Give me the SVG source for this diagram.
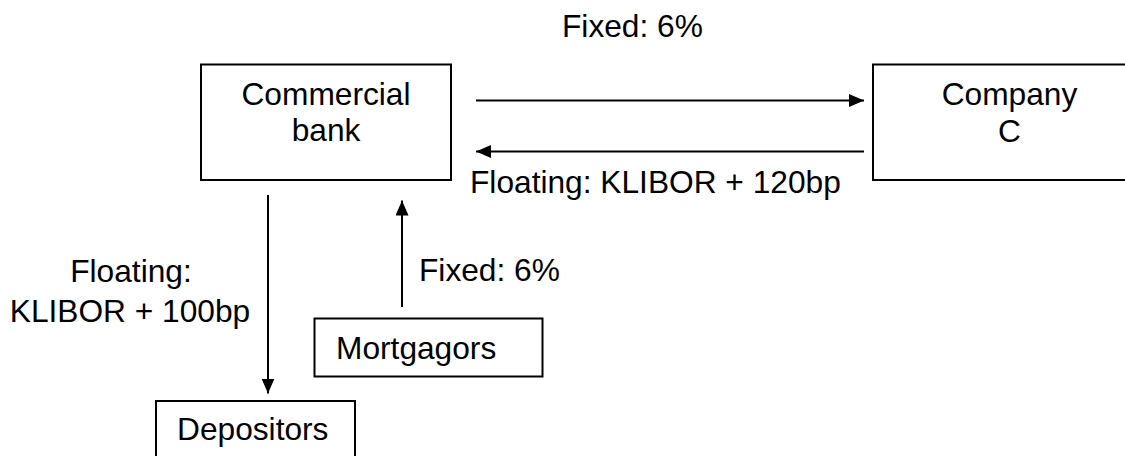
<svg xmlns="http://www.w3.org/2000/svg" width="1125" height="456" viewBox="0 0 1125 456">
  <style>
    .box { fill: #fff; stroke: #000; stroke-width: 2; }
    .wire { stroke: #000; stroke-width: 2; fill: none; marker-end: url(#head); }
    text { font-family: "Liberation Sans", Arial, sans-serif; font-size: 31.7px; fill: #000; }
    .c { text-anchor: middle; }
  </style>
  <defs>
    <marker id="head" viewBox="0 0 15 13" refX="15" refY="6.5" markerWidth="15" markerHeight="13" markerUnits="userSpaceOnUse" orient="auto">
      <path d="M0,0 L15,6.5 L0,13 Z" fill="#000"/>
    </marker>
  </defs>
  <rect width="1125" height="456" fill="#fff"/>

  <g id="commercial-bank">
    <rect class="box" x="201" y="64.5" width="250" height="115.5"/>
    <text class="c" x="326" y="105">Commercial</text>
    <text class="c" x="326" y="141">bank</text>
  </g>

  <g id="company-c">
    <rect class="box" x="873" y="64.5" width="270" height="115.5"/>
    <text class="c" x="1009.5" y="105">Company</text>
    <text class="c" x="1009.5" y="141.5">C</text>
  </g>

  <g id="mortgagors">
    <rect class="box" x="314.5" y="318.5" width="228" height="58"/>
    <text x="336" y="358.5">Mortgagors</text>
  </g>

  <g id="depositors">
    <rect class="box" x="156" y="401" width="199" height="70"/>
    <text x="177" y="440">Depositors</text>
  </g>

  <g id="connectors">
    <line class="wire" x1="476" y1="100.5" x2="864" y2="100.5"/>
    <line class="wire" x1="864" y1="151.5" x2="476" y2="151.5"/>
    <line class="wire" x1="268" y1="195" x2="268" y2="393.5"/>
    <line class="wire" x1="402" y1="307" x2="402" y2="200.5"/>
  </g>

  <g id="labels">
    <text x="562" y="37">Fixed: 6%</text>
    <text x="470" y="193">Floating: KLIBOR + 120bp</text>
    <text x="419" y="281">Fixed: 6%</text>
    <text class="c" x="131" y="282">Floating:</text>
    <text class="c" x="130" y="321.5">KLIBOR + 100bp</text>
  </g>
</svg>
